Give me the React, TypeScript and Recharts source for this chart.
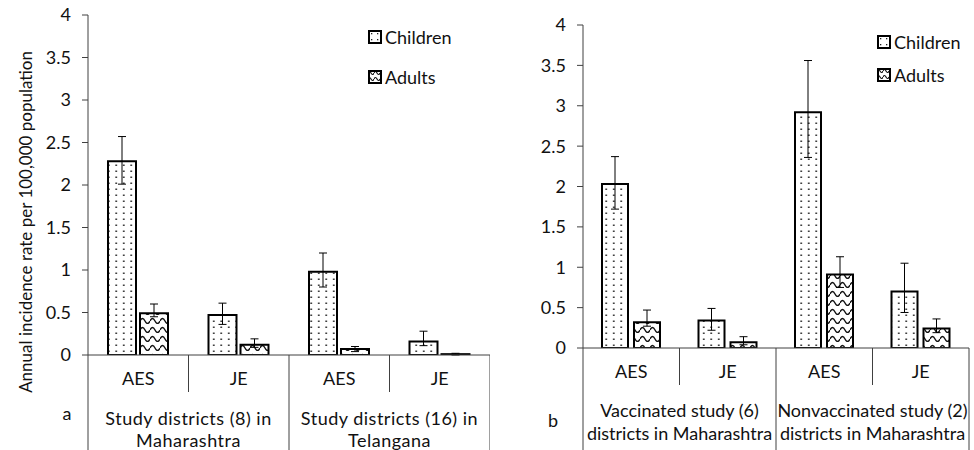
import React from 'react';
import { BarChart, Bar, XAxis, YAxis, ErrorBar, Legend, Label } from 'recharts';

const FONT = 'Lato, "Open Sans", sans-serif';
const INK = '#111';
const AXIS = '#404040';
const FS = 18;

// ---------- Panel a data ----------
const categoriesA = ['AES', 'JE', 'AES', 'JE'];
const groupLabelsA = [
  ['Study districts (8) in', 'Maharashtra'],
  ['Study districts (16) in', 'Telangana'],
];
const childrenA = [2.28, 0.47, 0.98, 0.16];
const childrenLowA = [2.01, 0.36, 0.8, 0.11];
const childrenHighA = [2.57, 0.61, 1.2, 0.28];
const adultsA = [0.49, 0.12, 0.07, 0.01];
const adultsLowA = [0.45, 0.09, 0.04, 0.0];
const adultsHighA = [0.6, 0.19, 0.1, 0.02];

// ---------- Panel b data ----------
const categoriesB = ['AES', 'JE', 'AES', 'JE'];
const groupLabelsB = [
  ['Vaccinated study (6)', 'districts in Maharashtra'],
  ['Nonvaccinated study (2)', 'districts in Maharashtra'],
];
const childrenB = [2.03, 0.34, 2.92, 0.7];
const childrenLowB = [1.72, 0.22, 2.36, 0.44];
const childrenHighB = [2.37, 0.49, 3.56, 1.05];
const adultsB = [0.32, 0.07, 0.91, 0.24];
const adultsLowB = [0.27, 0.04, 0.75, 0.19];
const adultsHighB = [0.47, 0.14, 1.13, 0.36];

const yTicks = [0, 0.5, 1, 1.5, 2, 2.5, 3, 3.5, 4];
const yLabel = 'Annual incidence rate per 100,000 population';

function buildRows(
  cats: string[], c: number[], cl: number[], ch: number[],
  a: number[], al: number[], ah: number[]
) {
  return cats.map((cat, i) => ({
    cat,
    children: c[i],
    childrenErr: [c[i] - cl[i], ch[i] - c[i]],
    adults: a[i],
    adultsErr: [a[i] - al[i], ah[i] - a[i]],
  }));
}

const rowsA = buildRows(categoriesA, childrenA, childrenLowA, childrenHighA, adultsA, adultsLowA, adultsHighA);
const rowsB = buildRows(categoriesB, childrenB, childrenLowB, childrenHighB, adultsB, adultsLowB, adultsHighB);

function makeTick(band: number, groups: string[][], axisH: number, lineY: number[], groupSpacing: number) {
  return (props: any) => {
    const { x, y, payload } = props;
    const i = payload?.index ?? props.index;
    const els: any[] = [];
    els.push(
      <text key="t" x={x} y={y + 23} textAnchor="middle" dominantBaseline="central"
        fontFamily={FONT} fontSize={FS} fill={INK}>{payload.value}</text>
    );
    if (i % 2 === 0) {
      els.push(<line key="gl" x1={x - band / 2} x2={x - band / 2} y1={y} y2={y + axisH} stroke={AXIS} strokeWidth={1} />);
      els.push(<line key="cl" x1={x + band / 2} x2={x + band / 2} y1={y} y2={y + 37} stroke={AXIS} strokeWidth={1} />);
      const g = groups[i / 2];
      g.forEach((ln, k) => {
        els.push(
          <text key={'g' + k} x={x + band / 2} y={y + lineY[k]} textAnchor="middle" dominantBaseline="central"
            fontFamily={FONT} fontSize={FS} fill={INK} letterSpacing={groupSpacing}>{ln}</text>
        );
      });
    }
    if (i === 3) {
      els.push(<line key="rl" x1={x + band / 2} x2={x + band / 2} y1={y} y2={y + axisH} stroke={AXIS} strokeWidth={1} />);
    }
    return <g>{els}</g>;
  };
}

function LegendIcon({ fill }: { fill: string }) {
  return (
    <svg width={14} height={14} style={{ display: 'block' }}>
      <rect x={1} y={1} width={12} height={12} fill={fill} stroke="#000" strokeWidth={2} />
    </svg>
  );
}

function makeLegend(gap: number) {
  return () => (
    <div style={{ fontFamily: FONT, fontSize: FS, color: INK }}>
      <div style={{ display: 'flex', alignItems: 'center', gap: 3, height: 22 }}>
        <LegendIcon fill="url(#dotsSmall)" /> <span>Children</span>
      </div>
      <div style={{ height: gap }} />
      <div style={{ display: 'flex', alignItems: 'center', gap: 3, height: 22 }}>
        <LegendIcon fill="url(#wavesSmall)" /> <span>Adults</span>
      </div>
    </div>
  );
}

function makeYLabel(dx: number, dyCenter: number, letter: string, lx: number, ly: number) {
  return (props: any) => {
    const vb = props.viewBox || { x: 0, y: 0, width: 0, height: 0 };
    const cx = vb.x + dx;
    const cy = vb.y + dyCenter;
    return (
      <g>
        {letter === 'a' ? (
          <text x={cx} y={cy} transform={`rotate(-90 ${cx} ${cy})`} textAnchor="middle" dominantBaseline="central"
            fontFamily={FONT} fontSize={17} fill={INK}>{yLabel}</text>
        ) : null}
        <text x={vb.x + lx} y={vb.y + ly} textAnchor="middle" dominantBaseline="central"
          fontFamily={FONT} fontSize={FS} fill={INK}>{letter}</text>
      </g>
    );
  };
}

function Panel(props: {
  rows: any[]; width: number; yWidth: number; top: number; right: number;
  axisH: number; groups: string[][]; barSize: number; barGap: number; letter: string;
  legendLeft: number; legendTop: number; legendGap: number; lineY: number[]; groupSpacing: number;
  labelDx: number; labelCy: number; lx: number; ly: number;
}) {
  const plotW = props.width - props.yWidth - props.right;
  const band = plotW / props.rows.length;
  const height = 450;
  return (
    <BarChart width={props.width} height={height} data={props.rows}
      margin={{ top: props.top, right: props.right, left: 0, bottom: 0 }}
      barSize={props.barSize} barGap={props.barGap}>
      <XAxis dataKey="cat" interval={0} height={props.axisH} tickSize={0} tickMargin={0}
        axisLine={{ stroke: AXIS, strokeWidth: 1 }} tickLine={false}
        tick={makeTick(band, props.groups, props.axisH, props.lineY, props.groupSpacing)} />
      <YAxis width={props.yWidth} domain={[0, 4]} ticks={yTicks} interval={0} tickSize={6} tickMargin={11}
        axisLine={{ stroke: AXIS, strokeWidth: 1 }} tickLine={{ stroke: AXIS, strokeWidth: 1 }}
        tick={{ fontFamily: FONT, fontSize: FS, fill: INK }} allowDataOverflow>
        <Label content={makeYLabel(props.labelDx, props.labelCy, props.letter, props.lx, props.ly)} />
      </YAxis>
      <Legend content={makeLegend(props.legendGap)} layout="vertical" align="center" verticalAlign="middle"
        wrapperStyle={{ position: 'absolute', left: props.legendLeft, top: props.legendTop, width: 120, bottom: 'auto', right: 'auto' }} />
      <Bar dataKey="children" name="Children" fill="url(#dots)" stroke="#000" strokeWidth={2} isAnimationActive={false}>
        <ErrorBar dataKey="childrenErr" width={4} stroke="#000" strokeWidth={1} direction="y" />
      </Bar>
      <Bar dataKey="adults" name="Adults" fill="url(#waves)" stroke="#000" strokeWidth={2} isAnimationActive={false}>
        <ErrorBar dataKey="adultsErr" width={4} stroke="#000" strokeWidth={1} direction="y" />
      </Bar>
    </BarChart>
  );
}

export default function App() {
  return (
    <div style={{ position: 'absolute', left: 0, top: 0, width: 974, height: 450, background: '#fff', display: 'flex' }}>
      <svg width={0} height={0} style={{ position: 'absolute' }}>
        <defs>
          <pattern id="dots" patternUnits="userSpaceOnUse" width={7.5} height={6}>
            <rect width={7.5} height={6} fill="#fff" />
            <rect x={3} y={2.5} width={1.5} height={1.5} fill="#111" />
          </pattern>
          <pattern id="waves" patternUnits="userSpaceOnUse" width={10} height={9}>
            <rect width={10} height={9} fill="#fff" />
            <path d="M0 6 Q2.5 1 5 6 T10 6" stroke="#111" strokeWidth={1.4} fill="none" />
          </pattern>
          <pattern id="dotsSmall" patternUnits="userSpaceOnUse" width={6} height={6}>
            <rect width={6} height={6} fill="#fff" />
            <rect x={3} y={3} width={1.3} height={1.3} fill="#222" />
          </pattern>
          <pattern id="wavesSmall" patternUnits="userSpaceOnUse" width={6} height={6}>
            <rect width={6} height={6} fill="#fff" />
            <path d="M0 3 Q1.5 0 3 3 T6 3" stroke="#111" strokeWidth={1.2} fill="none" />
          </pattern>
        </defs>
      </svg>
      <Panel rows={rowsA} width={490} yWidth={88} top={15} right={0} axisH={95}
        groups={groupLabelsA} barSize={28} barGap={4} letter="a"
        legendLeft={368} legendTop={26} legendGap={18} lineY={[63, 85]} groupSpacing={0.5}
        labelDx={25} labelCy={207} lx={67} ly={398} />
      <Panel rows={rowsB} width={484} yWidth={93} top={25} right={5} axisH={102}
        groups={groupLabelsB} barSize={26} barGap={6} letter="b"
        legendLeft={387} legendTop={31} legendGap={11} lineY={[62, 85]} groupSpacing={0}
        labelDx={25} labelCy={161} lx={63} ly={395} />
    </div>
  );
}
